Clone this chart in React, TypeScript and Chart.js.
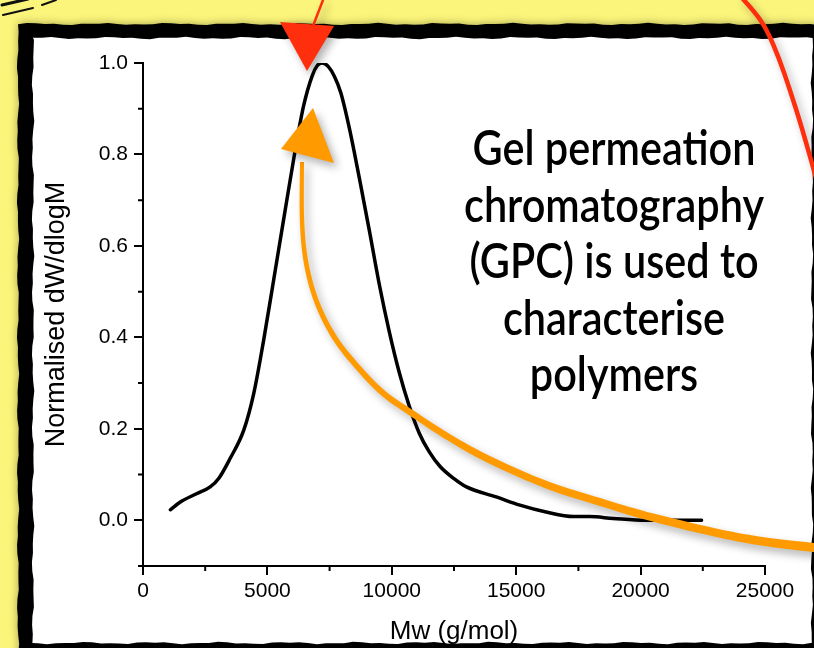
import React, { useEffect, useRef } from "react";
import { Chart, registerables } from "chart.js";

Chart.register(...registerables);

// ---- data ----
const mwValues = [1100, 1500, 2150, 2700, 3050, 3500, 4050, 4450, 4850, 5250, 5650, 6050, 6450, 6800, 7000, 7200, 7450, 7700, 7950, 8300, 8700, 9100, 9500, 9900, 10300, 10700, 11100, 11500, 11950, 12500, 13000, 14200, 15150, 16200, 17300, 17950, 18900, 20200, 22450];
const dwValues = [0.023, 0.040, 0.058, 0.073, 0.092, 0.135, 0.197, 0.277, 0.394, 0.525, 0.657, 0.788, 0.905, 0.972, 0.994, 1.0, 0.992, 0.970, 0.935, 0.856, 0.747, 0.633, 0.515, 0.412, 0.323, 0.250, 0.191, 0.150, 0.117, 0.091, 0.073, 0.051, 0.033, 0.018, 0.008, 0.008, 0.004, 0.0, 0.0];

const xTickValues = [0, 5000, 10000, 15000, 20000, 25000];
const xMinorTickValues = [2500, 7500, 12500, 17500, 22500];
const yTickValues = [0, 0.2, 0.4, 0.6, 0.8, 1.0];
const yMinorTickValues = [-0.1, 0.1, 0.3, 0.5, 0.7, 0.9];

const xTitle = "Mw (g/mol)";
const yTitle = "Normalised dW/dlogM";
const noteLines = ["Gel permeation", "chromatography", "(GPC) is used to", "characterise", "polymers"];

const AXIS_FONT = "'Liberation Sans', Arial, Helvetica, sans-serif";
const YELLOW = "#FBF57B";
const RED = "#FF2E0C";
const ORANGE = "#FF9A00";

function wobblyRect(ctx: CanvasRenderingContext2D, x0: number, y0: number, x1: number, y1: number, amp: number, seed: number) {
  const pts: [number, number][] = [];
  const step = 9;
  let k = seed;
  const w = () => {
    k += 1;
    return amp * (Math.sin(k * 0.83) * 0.6 + Math.sin(k * 2.1) * 0.4);
  };
  for (let x = x0; x <= x1; x += step) pts.push([x, y0 + w()]);
  for (let y = y0; y <= y1; y += step) pts.push([x1 + w(), y]);
  for (let x = x1; x >= x0; x -= step) pts.push([x, y1 + w()]);
  for (let y = y1; y >= y0; y -= step) pts.push([x0 + w(), y]);
  ctx.beginPath();
  pts.forEach(([x, y], i) => (i === 0 ? ctx.moveTo(x, y) : ctx.lineTo(x, y)));
  ctx.closePath();
}

function smoothPath(ctx: CanvasRenderingContext2D, pts: [number, number][]) {
  ctx.beginPath();
  ctx.moveTo(pts[0][0], pts[0][1]);
  for (let i = 1; i < pts.length - 1; i++) {
    const mx = (pts[i][0] + pts[i + 1][0]) / 2;
    const my = (pts[i][1] + pts[i + 1][1]) / 2;
    ctx.quadraticCurveTo(pts[i][0], pts[i][1], mx, my);
  }
  const last = pts[pts.length - 1];
  ctx.lineTo(last[0], last[1]);
}

function catmull(pts: [number, number][], n: number): [number, number][] {
  const out: [number, number][] = [];
  for (let i = 0; i < pts.length - 1; i++) {
    const p0 = pts[Math.max(0, i - 1)];
    const p1 = pts[i];
    const p2 = pts[i + 1];
    const p3 = pts[Math.min(pts.length - 1, i + 2)];
    for (let j = 0; j < n; j++) {
      const t = j / n;
      const t2 = t * t;
      const t3 = t2 * t;
      const f = (a: number, b: number, c: number, d: number) =>
        0.5 * (2 * b + (-a + c) * t + (2 * a - 5 * b + 4 * c - d) * t2 + (-a + 3 * b - 3 * c + d) * t3);
      out.push([f(p0[0], p1[0], p2[0], p3[0]), f(p0[1], p1[1], p2[1], p3[1])]);
    }
  }
  out.push(pts[pts.length - 1]);
  return out;
}

const decorPlugin = {
  id: "decor",
  beforeDraw(chart: any) {
    const ctx: CanvasRenderingContext2D = chart.ctx;
    ctx.save();
    ctx.fillStyle = YELLOW;
    ctx.fillRect(0, 0, chart.width, chart.height);
    // scribbles top-left
    ctx.strokeStyle = "#111";
    ctx.lineCap = "round";
    ctx.lineWidth = 2;
    ctx.beginPath();
    ctx.moveTo(3, 15); ctx.lineTo(33, 8);
    ctx.moveTo(42, 5); ctx.lineTo(56, 0);
    ctx.stroke();
    ctx.lineWidth = 3;
    ctx.beginPath();
    ctx.moveTo(2, 5); ctx.lineTo(28, -1);
    ctx.stroke();
    // black frame with shadow
    ctx.shadowColor = "rgba(0,0,0,0.35)";
    ctx.shadowBlur = 8;
    ctx.fillStyle = "#000";
    wobblyRect(ctx, 18, 24, 850, 680, 1.2, 3);
    ctx.fill();
    ctx.shadowColor = "transparent";
    ctx.shadowBlur = 0;
    ctx.fillStyle = "#fff";
    wobblyRect(ctx, 33, 38, 812, 643, 1.3, 11);
    ctx.fill();
    ctx.restore();
  },
  afterDraw(chart: any) {
    const ctx: CanvasRenderingContext2D = chart.ctx;
    const xs = chart.scales.x;
    const ys = chart.scales.y;
    ctx.save();
    // minor ticks
    ctx.strokeStyle = "#000";
    ctx.lineWidth = 2;
    ctx.beginPath();
    xMinorTickValues.forEach((v) => {
      const px = xs.getPixelForValue(v);
      ctx.moveTo(px, xs.top);
      ctx.lineTo(px, xs.top + 5);
    });
    yMinorTickValues.forEach((v) => {
      const py = ys.getPixelForValue(v);
      ctx.moveTo(ys.right, py);
      ctx.lineTo(ys.right - 5, py);
    });
    ctx.stroke();

    // right red line
    ctx.shadowColor = "rgba(0,0,0,0.3)";
    ctx.shadowBlur = 8;
    ctx.shadowOffsetX = 4;
    ctx.shadowOffsetY = 5;
    ctx.strokeStyle = RED;
    ctx.lineCap = "round";
    ctx.lineWidth = 4.5;
    smoothPath(ctx, [[742, -2], [755, 12], [767, 30], [779, 58], [790, 90], [802, 128], [816, 178]]);
    ctx.stroke();

    // red arrow from top
    ctx.lineWidth = 2.5;
    ctx.beginPath();
    ctx.moveTo(323, 0);
    ctx.lineTo(313, 26);
    ctx.stroke();
    ctx.fillStyle = RED;
    ctx.beginPath();
    ctx.moveTo(280, 22);
    ctx.lineTo(334, 26);
    ctx.lineTo(307, 71);
    ctx.closePath();
    ctx.fill();

    // orange arrow: shaft with gradually growing width (drawn as one filled ribbon)
    const shaft = catmull(
      [[302, 162], [302, 220], [306, 262], [316, 300], [333, 335], [355, 364], [383, 393], [413, 414], [450, 438], [490, 460], [547, 485], [600, 502], [647, 516], [713, 532], [760, 541], [818, 548]],
      8
    );
    const left: [number, number][] = [];
    const right: [number, number][] = [];
    shaft.forEach((p, i) => {
      const a = shaft[Math.max(0, i - 1)];
      const b = shaft[Math.min(shaft.length - 1, i + 1)];
      const dx = b[0] - a[0];
      const dy = b[1] - a[1];
      const len = Math.hypot(dx, dy) || 1;
      const nx = -dy / len;
      const ny = dx / len;
      const hw = (4 + (5 * i) / (shaft.length - 1)) / 2;
      left.push([p[0] + nx * hw, p[1] + ny * hw]);
      right.push([p[0] - nx * hw, p[1] - ny * hw]);
    });
    ctx.fillStyle = ORANGE;
    ctx.beginPath();
    left.forEach(([x, y], i) => (i === 0 ? ctx.moveTo(x, y) : ctx.lineTo(x, y)));
    for (let i = right.length - 1; i >= 0; i--) ctx.lineTo(right[i][0], right[i][1]);
    ctx.closePath();
    ctx.fill();
    ctx.beginPath();
    ctx.moveTo(313, 108);
    ctx.lineTo(334, 163);
    ctx.lineTo(281, 149);
    ctx.closePath();
    ctx.fill();
    ctx.shadowColor = "transparent";
    ctx.shadowBlur = 0;
    ctx.shadowOffsetX = 0;
    ctx.shadowOffsetY = 0;

    // annotation text
    ctx.fillStyle = "#000";
    ctx.font = "600 48px Lato, 'Noto Sans', sans-serif";
    ctx.textAlign = "center";
    ctx.textBaseline = "alphabetic";
    const ref = ctx.measureText(noteLines[1]).width;
    const sx = 300 / ref;
    const baselines = [165, 221.5, 278, 334.5, 391];
    noteLines.forEach((line, i) => {
      ctx.save();
      ctx.translate(614, baselines[i]);
      ctx.scale(sx, 1);
      ctx.fillText(line, 0, 0);
      ctx.restore();
    });
    ctx.restore();
  },
};

export default function App() {
  const canvasRef = useRef<HTMLCanvasElement | null>(null);

  useEffect(() => {
    document.body.style.margin = "0";
    const canvas = canvasRef.current;
    if (!canvas) return;
    const chart = new Chart(canvas, {
      type: "line",
      data: {
        datasets: [
          {
            data: mwValues.map((x, i) => ({ x, y: dwValues[i] })),
            borderColor: "#000",
            borderWidth: 3.5,
            pointRadius: 0,
            fill: false,
            cubicInterpolationMode: "monotone",
            borderCapStyle: "round",
            borderJoinStyle: "round",
          },
        ],
      },
      options: {
        animation: false,
        responsive: false,
        devicePixelRatio: 1,
        layout: { padding: { left: 30, right: 49, top: 63, bottom: 0 } },
        plugins: { legend: { display: false }, tooltip: { enabled: false } },
        scales: {
          x: {
            type: "linear",
            min: 0,
            max: 25000,
            afterBuildTicks: (s: any) => {
              s.ticks = xTickValues.map((v) => ({ value: v }));
            },
            afterFit: (s: any) => {
              s.height = 82;
            },
            border: { display: true, color: "#000", width: 2 },
            grid: { display: true, drawOnChartArea: false, drawTicks: true, tickLength: 9, color: "#000", lineWidth: 2 },
            ticks: {
              color: "#000",
              padding: 4,
              maxRotation: 0,
              autoSkip: false,
              font: { family: AXIS_FONT, size: 21 },
              callback: (v: any) => String(v),
            },
            title: {
              display: true,
              text: xTitle,
              color: "#000",
              font: { family: AXIS_FONT, size: 26 },
              padding: { top: 0, bottom: 1 },
            },
          },
          y: {
            type: "linear",
            min: -0.1,
            max: 1.0,
            afterBuildTicks: (s: any) => {
              s.ticks = yTickValues.map((v) => ({ value: v }));
            },
            afterFit: (s: any) => {
              s.width = 113;
            },
            border: { display: true, color: "#000", width: 2 },
            grid: { display: true, drawOnChartArea: false, drawTicks: true, tickLength: 9, color: "#000", lineWidth: 2 },
            ticks: {
              color: "#000",
              padding: 6,
              autoSkip: false,
              font: { family: AXIS_FONT, size: 21 },
              callback: (v: any) => Number(v).toFixed(1),
            },
            title: {
              display: true,
              text: yTitle,
              color: "#000",
              font: { family: AXIS_FONT, size: 27 },
              padding: { top: 10, bottom: 0 },
            },
          },
        },
      },
      plugins: [decorPlugin],
    } as any);
    return () => chart.destroy();
  }, []);

  return (
    <div style={{ width: 814, height: 648, position: "relative", overflow: "hidden" }}>
      <canvas ref={canvasRef} width={814} height={648} style={{ display: "block" }} />
    </div>
  );
}
